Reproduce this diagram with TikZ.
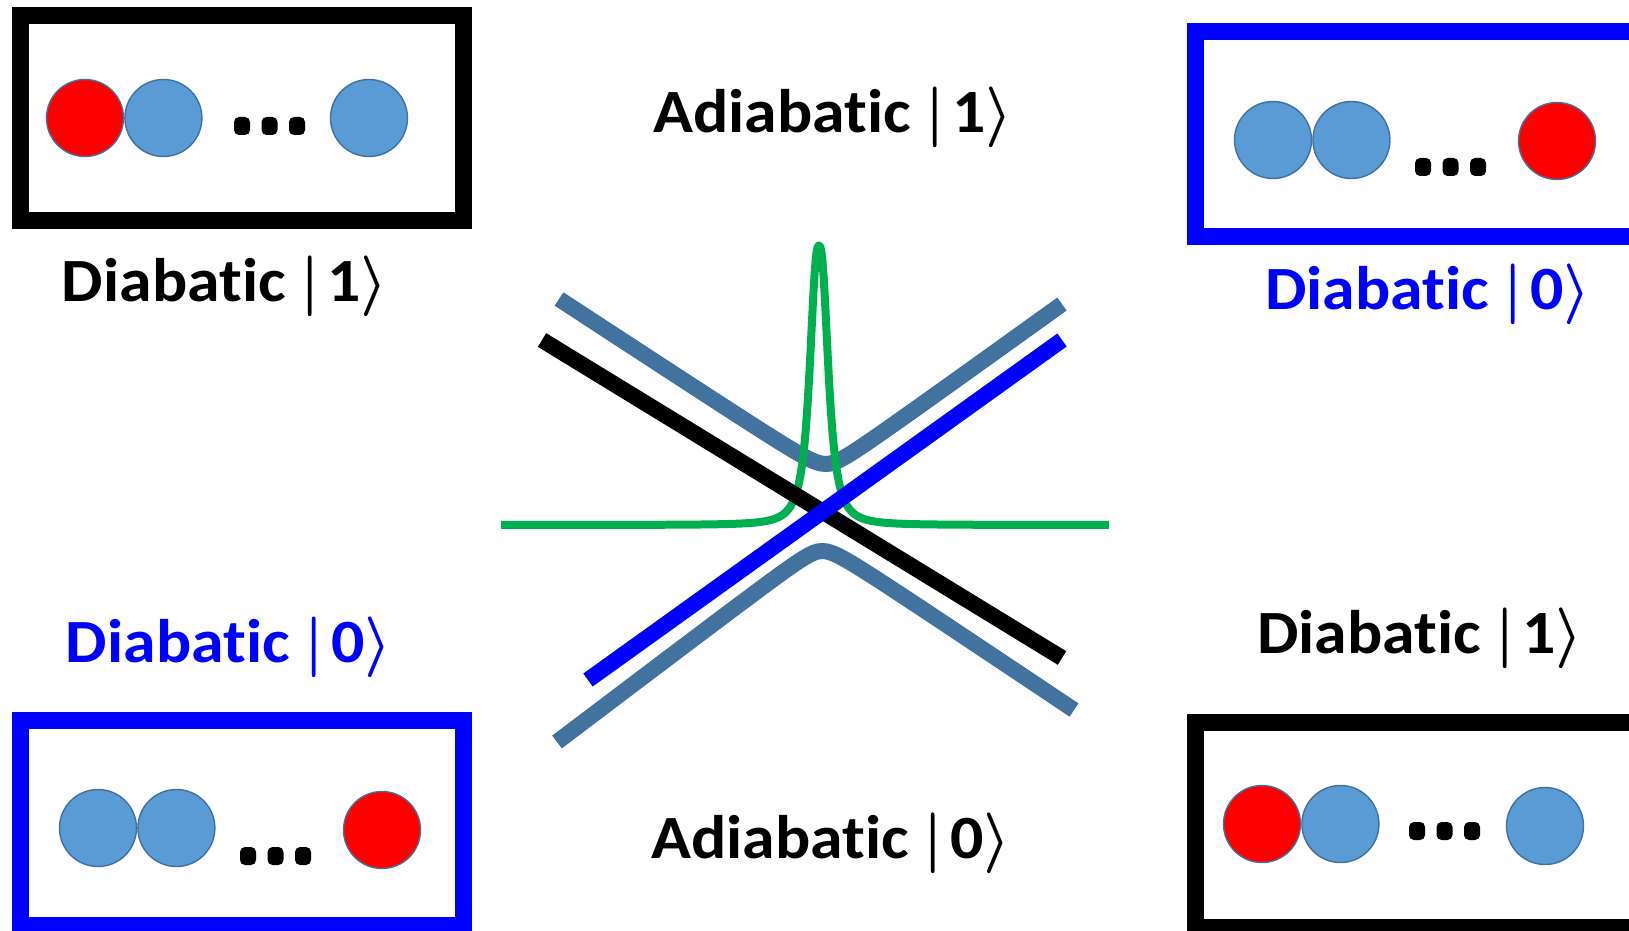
\documentclass[tikz,border=0pt]{standalone}
\usepackage{fontspec}
\setmainfont{Carlito}[Ligatures=NoCommon, FakeStretch=1.07]
\usetikzlibrary{positioning}
\definecolor{siteblue}{RGB}{91,155,213}
\definecolor{siteedge}{RGB}{65,113,156}
\definecolor{adiabatic}{RGB}{68,114,158}
\definecolor{peakgreen}{RGB}{0,176,80}
\definecolor{stateblue}{RGB}{0,0,255}
\newcommand{\ketof}[1]{{\boldmath$|$}\kern0.12em#1{\boldmath$\rangle$}}
\tikzset{
  statebox/.style={draw, line width=0.17cm, inner sep=0pt, minimum width=4.43cm, minimum height=2.05cm},
  site/.style={circle, draw=siteedge, line width=0.4pt, fill=siteblue, minimum size=0.77cm, inner sep=0pt},
  excited/.style={site, fill=red},
  dotmark/.style={rectangle, rounded corners=0.05cm, fill=black, minimum width=0.16cm, minimum height=0.18cm, inner sep=0pt},
  statelabel/.style={font=\fontsize{17.5}{20}\selectfont\bfseries, anchor=base, inner sep=0pt},
  level/.style={line width=0.16cm},
}

\begin{document}
\begin{tikzpicture}[x=1cm, y=-1cm]
  \useasboundingbox (0,0) rectangle (16.29,9.30);
  \clip (0,0) rectangle (16.29,9.30);

  % Diabatic |1> (top left)
  \node[statebox] (tl box) at (2.42,1.18) {};
  \node[excited] (tl a) at (0.85,1.18) {};
  \node[site, right=0pt of tl a] (tl b) {};
  \node[site] (tl c) at (3.69,1.18) {};
  \foreach \i in {0,1,2}
    \node[dotmark] (tl dot\i) at ({2.42+0.275*\i},1.26) {};
  \node[statelabel] (tl label) at (2.25,3.02) {Diabatic \ketof{1}};

  % Diabatic |0> (top right)
  \node[statebox, draw=stateblue] (tr box) at (14.17,1.34) {};
  \node[site] (tr a) at (12.73,1.40) {};
  \node[site, right=0pt of tr a] (tr b) {};
  \node[excited] (tr c) at (15.57,1.41) {};
  \foreach \i in {0,1,2}
    \node[dotmark] (tr dot\i) at ({14.23+0.275*\i},1.67) {};
  \node[statelabel, text=stateblue] (tr label) at (14.28,3.10) {Diabatic \ketof{0}};

  % Diabatic |0> (bottom left)
  \node[statebox, draw=stateblue] (bl box) at (2.42,8.23) {};
  \node[site] (bl a) at (0.98,8.28) {};
  \node[site, right=0pt of bl a] (bl b) {};
  \node[excited] (bl c) at (3.82,8.30) {};
  \foreach \i in {0,1,2}
    \node[dotmark] (bl dot\i) at ({2.48+0.275*\i},8.56) {};
  \node[statelabel, text=stateblue] (bl label) at (2.29,6.62) {Diabatic \ketof{0}};

  % Diabatic |1> (bottom right)
  \node[statebox] (br box) at (14.17,8.245) {};
  \node[excited] (br a) at (12.62,8.24) {};
  \node[site, right=0pt of br a] (br b) {};
  \node[site] (br c) at (15.45,8.26) {};
  \foreach \i in {0,1,2}
    \node[dotmark] (br dot\i) at ({14.17+0.275*\i},8.31) {};
  \node[statelabel] (br label) at (14.20,6.53) {Diabatic \ketof{1}};

  % Adiabatic labels
  \node[statelabel] (up label) at (8.33,1.33) {Adiabatic \ketof{1}};
  \node[statelabel] (low label) at (8.31,8.58) {Adiabatic \ketof{0}};

  % Adiabatic curves
  \draw[level, adiabatic]
    plot[domain=5.59:8.26, samples=60] (\x, {4.74-sqrt((0.6544*(\x-8.26))^2+0.01)})
    -- plot[domain=8.26:10.62, samples=60] (\x, {4.74-sqrt((0.719*(\x-8.26))^2+0.01)});
  \draw[level, adiabatic]
    plot[domain=5.57:8.22, samples=60] (\x, {5.41+sqrt((0.7575*(\x-8.22))^2+0.01)})
    -- plot[domain=8.22:10.74, samples=60] (\x, {5.41+sqrt((0.6695*(\x-8.22))^2+0.01)});

  % Coupling peak
  \draw[peakgreen, line width=0.08cm, line join=round]
    plot[domain=5.01:11.09, samples=600]
      (\x, {5.25-2.795/(1+((abs(\x-8.19)+0.0001)/0.103)^2.59)});

  % Diabatic lines
  \coordinate (black start) at (5.42,3.40);
  \coordinate (black end) at (10.62,6.58);
  \coordinate (blue start) at (5.88,6.80);
  \coordinate (blue end) at (10.62,3.40);
  \draw[level] (black start) -- (black end);
  \draw[level, stateblue] (blue start) -- (blue end);
\end{tikzpicture}
\end{document}
